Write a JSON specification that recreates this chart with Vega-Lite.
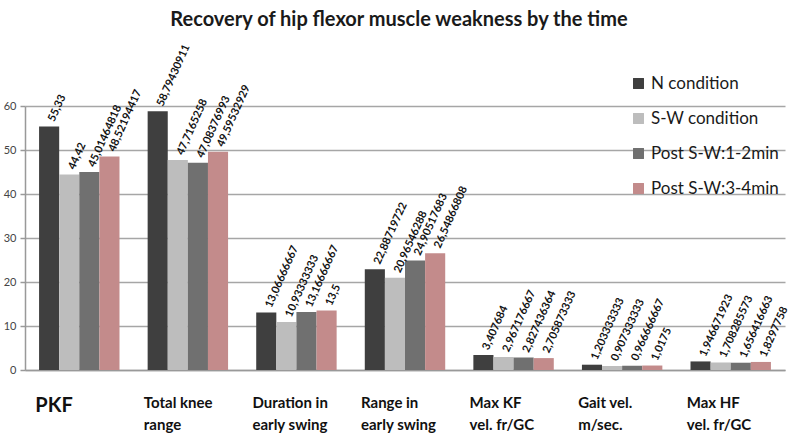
{
  "$schema": "https://vega.github.io/schema/vega-lite/v6.json",
  "width": 760,
  "height": 264,
  "autosize": {"type": "none"},
  "padding": {"left": 25, "top": 106, "right": 4, "bottom": 65},
  "background": "white",
  "title": {
    "text": "Recovery of hip flexor muscle weakness by the time",
    "font": "Lato",
    "fontSize": 20,
    "fontWeight": "bold",
    "color": "#1a1a1a",
    "anchor": "middle",
    "frame": "group",
    "offset": 13,
    "dx": -6
  },
  "config": {
    "view": {"stroke": null},
    "font": "Lato"
  },
  "data": {
    "values": [
      {"cat": "PKF", "series": "N condition", "value": 55.33, "txt": "55,33"},
      {"cat": "PKF", "series": "S-W condition", "value": 44.42, "txt": "44,42"},
      {"cat": "PKF", "series": "Post S-W:1-2min", "value": 45.01464818, "txt": "45,01464818"},
      {"cat": "PKF", "series": "Post S-W:3-4min", "value": 48.52194417, "txt": "48,52194417"},
      {"cat": "Total knee range", "series": "N condition", "value": 58.79430911, "txt": "58,79430911"},
      {"cat": "Total knee range", "series": "S-W condition", "value": 47.7165258, "txt": "47,7165258"},
      {"cat": "Total knee range", "series": "Post S-W:1-2min", "value": 47.08376993, "txt": "47,08376993"},
      {"cat": "Total knee range", "series": "Post S-W:3-4min", "value": 49.59532929, "txt": "49,59532929"},
      {"cat": "Duration in early swing", "series": "N condition", "value": 13.06666667, "txt": "13,06666667"},
      {"cat": "Duration in early swing", "series": "S-W condition", "value": 10.93333333, "txt": "10,93333333"},
      {"cat": "Duration in early swing", "series": "Post S-W:1-2min", "value": 13.16666667, "txt": "13,16666667"},
      {"cat": "Duration in early swing", "series": "Post S-W:3-4min", "value": 13.5, "txt": "13,5"},
      {"cat": "Range in early swing", "series": "N condition", "value": 22.88719722, "txt": "22,88719722"},
      {"cat": "Range in early swing", "series": "S-W condition", "value": 20.96546288, "txt": "20,96546288"},
      {"cat": "Range in early swing", "series": "Post S-W:1-2min", "value": 24.90517683, "txt": "24,90517683"},
      {"cat": "Range in early swing", "series": "Post S-W:3-4min", "value": 26.54866808, "txt": "26,54866808"},
      {"cat": "Max KF vel. fr/GC", "series": "N condition", "value": 3.407684, "txt": "3,407684"},
      {"cat": "Max KF vel. fr/GC", "series": "S-W condition", "value": 2.967176667, "txt": "2,967176667"},
      {"cat": "Max KF vel. fr/GC", "series": "Post S-W:1-2min", "value": 2.827436364, "txt": "2,827436364"},
      {"cat": "Max KF vel. fr/GC", "series": "Post S-W:3-4min", "value": 2.705873333, "txt": "2,705873333"},
      {"cat": "Gait vel. m/sec.", "series": "N condition", "value": 1.203333333, "txt": "1,203333333"},
      {"cat": "Gait vel. m/sec.", "series": "S-W condition", "value": 0.907333333, "txt": "0,907333333"},
      {"cat": "Gait vel. m/sec.", "series": "Post S-W:1-2min", "value": 0.966666667, "txt": "0,966666667"},
      {"cat": "Gait vel. m/sec.", "series": "Post S-W:3-4min", "value": 1.0175, "txt": "1,0175"},
      {"cat": "Max HF vel. fr/GC", "series": "N condition", "value": 1.946671923, "txt": "1,946671923"},
      {"cat": "Max HF vel. fr/GC", "series": "S-W condition", "value": 1.708285573, "txt": "1,708285573"},
      {"cat": "Max HF vel. fr/GC", "series": "Post S-W:1-2min", "value": 1.656416663, "txt": "1,656416663"},
      {"cat": "Max HF vel. fr/GC", "series": "Post S-W:3-4min", "value": 1.8297758, "txt": "1,8297758"}
    ]
  },
  "encoding": {
    "x": {
      "field": "cat",
      "type": "nominal",
      "sort": null,
      "scale": {"paddingInner": 0, "paddingOuter": 0},
      "axis": {
        "title": null,
        "labelAngle": 0,
        "labelAlign": "left",
        "labelBaseline": "top",
        "labelOffset": -44,
        "labelPadding": 25,
        "labelFont": "Lato",
        "labelFontWeight": "bold",
        "labelFontSize": {"condition": {"test": "datum.value == 'PKF'", "value": 20}, "value": 15},
        "labelColor": "#111",
        "labelLineHeight": 22,
        "labelLimit": 200,
        "labelExpr": "datum.value == 'Total knee range' ? ['Total knee', 'range'] : datum.value == 'Duration in early swing' ? ['Duration in', 'early swing'] : datum.value == 'Range in early swing' ? ['Range in', 'early swing'] : datum.value == 'Max KF vel. fr/GC' ? ['Max KF', 'vel. fr/GC'] : datum.value == 'Gait vel. m/sec.' ? ['Gait vel.', 'm/sec.'] : datum.value == 'Max HF vel. fr/GC' ? ['Max HF', 'vel. fr/GC'] : datum.value",
        "ticks": false,
        "domainColor": "#999",
        "domainWidth": 1.5
      }
    },
    "xOffset": {
      "field": "series",
      "type": "nominal",
      "sort": ["N condition", "S-W condition", "Post S-W:1-2min", "Post S-W:3-4min"],
      "scale": {"paddingInner": 0, "paddingOuter": 0.7}
    },
    "y": {
      "field": "value",
      "type": "quantitative",
      "scale": {"domain": [0, 60], "nice": false},
      "axis": {
        "title": null,
        "values": [0, 10, 20, 30, 40, 50, 60],
        "labelFont": "Lato",
        "labelFontSize": 11,
        "labelColor": "#444",
        "labelPadding": 4,
        "tickColor": "#999",
        "tickSize": 5,
        "tickWidth": 1.5,
        "domainColor": "#999",
        "domainWidth": 1.5,
        "gridColor": "#a6a6a6",
        "gridWidth": 1.5
      }
    }
  },
  "layer": [
    {
      "mark": {"type": "bar"},
      "encoding": {
        "color": {
          "field": "series",
          "type": "nominal",
          "sort": ["N condition", "S-W condition", "Post S-W:1-2min", "Post S-W:3-4min"],
          "scale": {
            "domain": ["N condition", "S-W condition", "Post S-W:1-2min", "Post S-W:3-4min"],
            "range": ["#3f3f3f", "#bdbdbd", "#707070", "#c38b8b"]
          },
          "legend": {
            "title": null,
            "orient": "none",
            "legendX": 605,
            "legendY": -31,
            "symbolType": "square",
            "symbolSize": 120,
            "labelFont": "Lato",
            "labelFontSize": 17,
            "labelColor": "#1a1a1a",
            "labelOffset": 4,
            "rowPadding": 17,
            "labelLimit": 200
          }
        }
      }
    },
    {
      "mark": {
        "type": "text",
        "angle": -66,
        "align": "left",
        "baseline": "middle",
        "dx": 6,
        "font": "Lato",
        "fontSize": 11,
        "fontWeight": "bold",
        "color": "#111"
      },
      "encoding": {
        "text": {"field": "txt"}
      }
    }
  ]
}
